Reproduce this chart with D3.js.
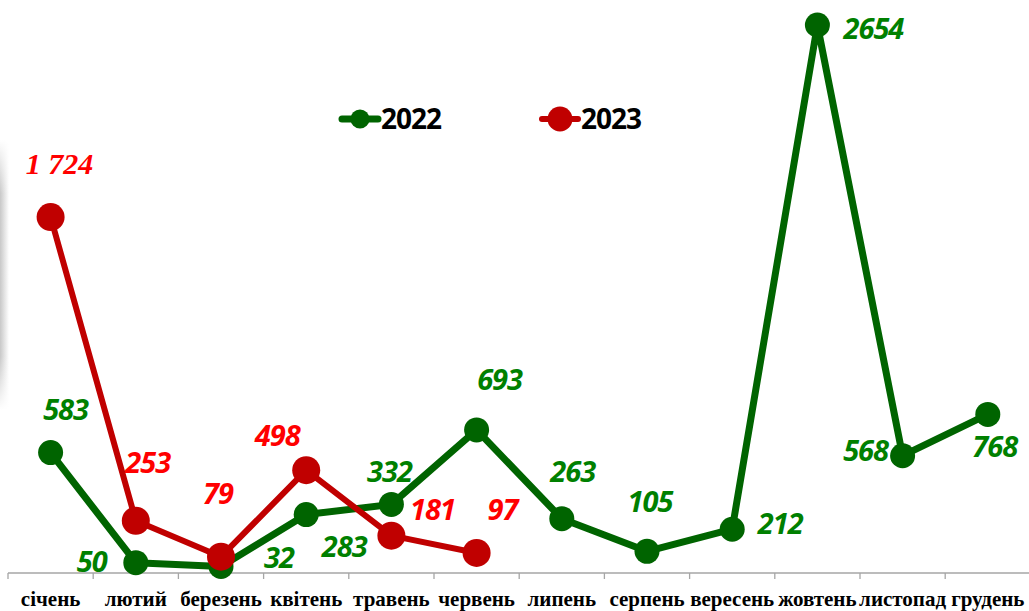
<!DOCTYPE html>
<html>
<head>
<meta charset="utf-8">
<script src="https://cdn.jsdelivr.net/npm/d3@7"></script>
<style>
  body { margin: 0; background: #fff; }
  svg { display: block; }
</style>
</head>
<body>
<div id="chart"></div>
<script>
// months (x categories)
var months = ["січень", "лютий", "березень", "квітень", "травень", "червень",
    "липень", "серпень", "вересень", "жовтень", "листопад", "грудень"];

// series values
var values2022 = [583, 50, 32, 283, 332, 693, 263, 105, 212, 2654, 568, 768];
var values2023 = [1724, 253, 79, 498, 181, 97];

// label text as displayed
var labels2022 = ["583", "50", "32", "283", "332", "693", "263", "105", "212", "2654", "568", "768"];
var labels2023 = ["1 724", "253", "79", "498", "181", "97"];

// label placement offsets relative to each point (layout only)
var offs2022 = [[15, -33], [-44, 9], [58, 2], [38, 42], [-2, -22], [23, -40],
    [11, -37], [3, -39], [48, 5], [56, 14], [-37, 5], [7, 43]];
var offs2023 = [[9, -43], [12, -48], [-3, -53], [-29, -24], [41, -16], [26, -33]];

var width = 1029, height = 611;

var svg = d3.select("#chart").append("svg")
    .attr("width", width)
    .attr("height", height);

// faint shadow on the left edge
var defs = svg.append("defs");
var grad = defs.append("linearGradient").attr("id", "shade")
    .attr("x1", 0).attr("x2", 1).attr("y1", 0).attr("y2", 0);
grad.append("stop").attr("offset", "0%").attr("stop-color", "#c8c8c8");
grad.append("stop").attr("offset", "100%").attr("stop-color", "#ffffff");
var gradV = defs.append("linearGradient").attr("id", "shadeV")
    .attr("x1", 0).attr("x2", 0).attr("y1", 0).attr("y2", 1);
gradV.append("stop").attr("offset", "0%").attr("stop-color", "#fff").attr("stop-opacity", 1);
gradV.append("stop").attr("offset", "20%").attr("stop-color", "#fff").attr("stop-opacity", 0);
gradV.append("stop").attr("offset", "80%").attr("stop-color", "#fff").attr("stop-opacity", 0);
gradV.append("stop").attr("offset", "100%").attr("stop-color", "#fff").attr("stop-opacity", 1);
svg.append("rect").attr("x", 0).attr("y", 140).attr("width", 9).attr("height", 270)
    .attr("fill", "url(#shade)");
svg.append("rect").attr("x", 0).attr("y", 140).attr("width", 9).attr("height", 270)
    .attr("fill", "url(#shadeV)");

var x = d3.scaleBand()
    .domain(months)
    .range([8, 1030.4])
    .paddingInner(0).paddingOuter(0);

var y = d3.scaleLinear()
    .domain([0, 2654])
    .range([573, 25]);

function cx(i) { return x(months[i]) + x.bandwidth() / 2; }

// x axis
var axis = svg.append("g")
    .attr("transform", "translate(0,573)");
axis.append("line")
    .attr("x1", 8).attr("x2", width)
    .attr("y1", 0).attr("y2", 0)
    .attr("stroke", "#a6a6a6").attr("stroke-width", 1.3);
axis.selectAll(".tick")
    .data(months)
    .enter().append("line")
    .attr("class", "tick")
    .attr("x1", function(d) { return x(d); })
    .attr("x2", function(d) { return x(d); })
    .attr("y1", 0).attr("y2", 6)
    .attr("stroke", "#a6a6a6").attr("stroke-width", 1.3);
axis.selectAll(".mlabel")
    .data(months)
    .enter().append("text")
    .attr("class", "mlabel")
    .attr("x", function(d) { return x(d) + x.bandwidth() / 2; })
    .attr("y", 33)
    .attr("text-anchor", "middle")
    .style("font-family", "'Liberation Serif', 'DejaVu Serif', serif")
    .style("font-weight", "bold")
    .style("font-size", "21px")
    .attr("fill", "#000")
    .text(function(d) { return d; });

var line = d3.line()
    .x(function(d, i) { return cx(i); })
    .y(function(d) { return y(d); });

// 2022 series
svg.append("path")
    .datum(values2022)
    .attr("d", line)
    .attr("fill", "none")
    .attr("stroke", "#006400")
    .attr("stroke-width", 7)
    .attr("stroke-linejoin", "round");

svg.selectAll(".dot22")
    .data(values2022)
    .enter().append("circle")
    .attr("class", "dot22")
    .attr("cx", function(d, i) { return cx(i); })
    .attr("cy", function(d) { return y(d); })
    .attr("r", 12.5)
    .attr("fill", "#006400");

// 2023 series
svg.append("path")
    .datum(values2023)
    .attr("d", line)
    .attr("fill", "none")
    .attr("stroke", "#c00000")
    .attr("stroke-width", 6)
    .attr("stroke-linejoin", "round");

svg.selectAll(".dot23")
    .data(values2023)
    .enter().append("circle")
    .attr("class", "dot23")
    .attr("cx", function(d, i) { return cx(i); })
    .attr("cy", function(d) { return y(d); })
    .attr("r", 14)
    .attr("fill", "#c00000");

// value labels
svg.selectAll(".lab22")
    .data(values2022)
    .enter().append("text")
    .attr("class", "lab22")
    .attr("x", function(d, i) { return cx(i) + offs2022[i][0]; })
    .attr("y", function(d, i) { return y(d) + offs2022[i][1]; })
    .attr("text-anchor", "middle")
    .style("font-family", "'Open Sans', sans-serif")
    .style("font-weight", "bold")
    .style("font-style", "italic")
    .style("font-size", "29px")
    .style("letter-spacing", "-1px")
    .attr("fill", "#008000")
    .text(function(d, i) { return labels2022[i]; });

svg.selectAll(".lab23")
    .data(values2023)
    .enter().append("text")
    .attr("class", "lab23")
    .attr("x", function(d, i) { return cx(i) + offs2023[i][0]; })
    .attr("y", function(d, i) { return y(d) + offs2023[i][1]; })
    .attr("text-anchor", "middle")
    .style("font-family", function(d, i) { return i == 0 ? "'Liberation Serif', serif" : "'Open Sans', sans-serif"; })
    .style("font-weight", "bold")
    .style("font-style", "italic")
    .style("font-size", function(d, i) { return i == 0 ? "30px" : "29px"; })
    .style("letter-spacing", function(d, i) { return i == 0 ? "0px" : "-1px"; })
    .attr("fill", "#ff0000")
    .text(function(d, i) { return labels2023[i]; });

// legend
var legend = [
    { name: "2022", color: "#006400", x: 340, r: 9.5, w: 7 },
    { name: "2023", color: "#c00000", x: 540, r: 12.5, w: 6 }
];
var lg = svg.selectAll(".legend")
    .data(legend)
    .enter().append("g")
    .attr("class", "legend")
    .attr("transform", function(d) { return "translate(" + d.x + ",119)"; });
lg.append("line")
    .attr("x1", 2).attr("x2", 38)
    .attr("y1", 0).attr("y2", 0)
    .attr("stroke", function(d) { return d.color; })
    .attr("stroke-width", function(d) { return d.w; })
    .attr("stroke-linecap", "round");
lg.append("circle")
    .attr("cx", 20).attr("cy", 0)
    .attr("r", function(d) { return d.r; })
    .attr("fill", function(d) { return d.color; });
lg.append("text")
    .attr("x", 41).attr("y", 10)
    .style("font-family", "'Open Sans', sans-serif")
    .style("font-weight", "bold")
    .style("font-size", "28px")
    .style("letter-spacing", "-1px")
    .attr("fill", "#000")
    .text(function(d) { return d.name; });
</script>
</body>
</html>
